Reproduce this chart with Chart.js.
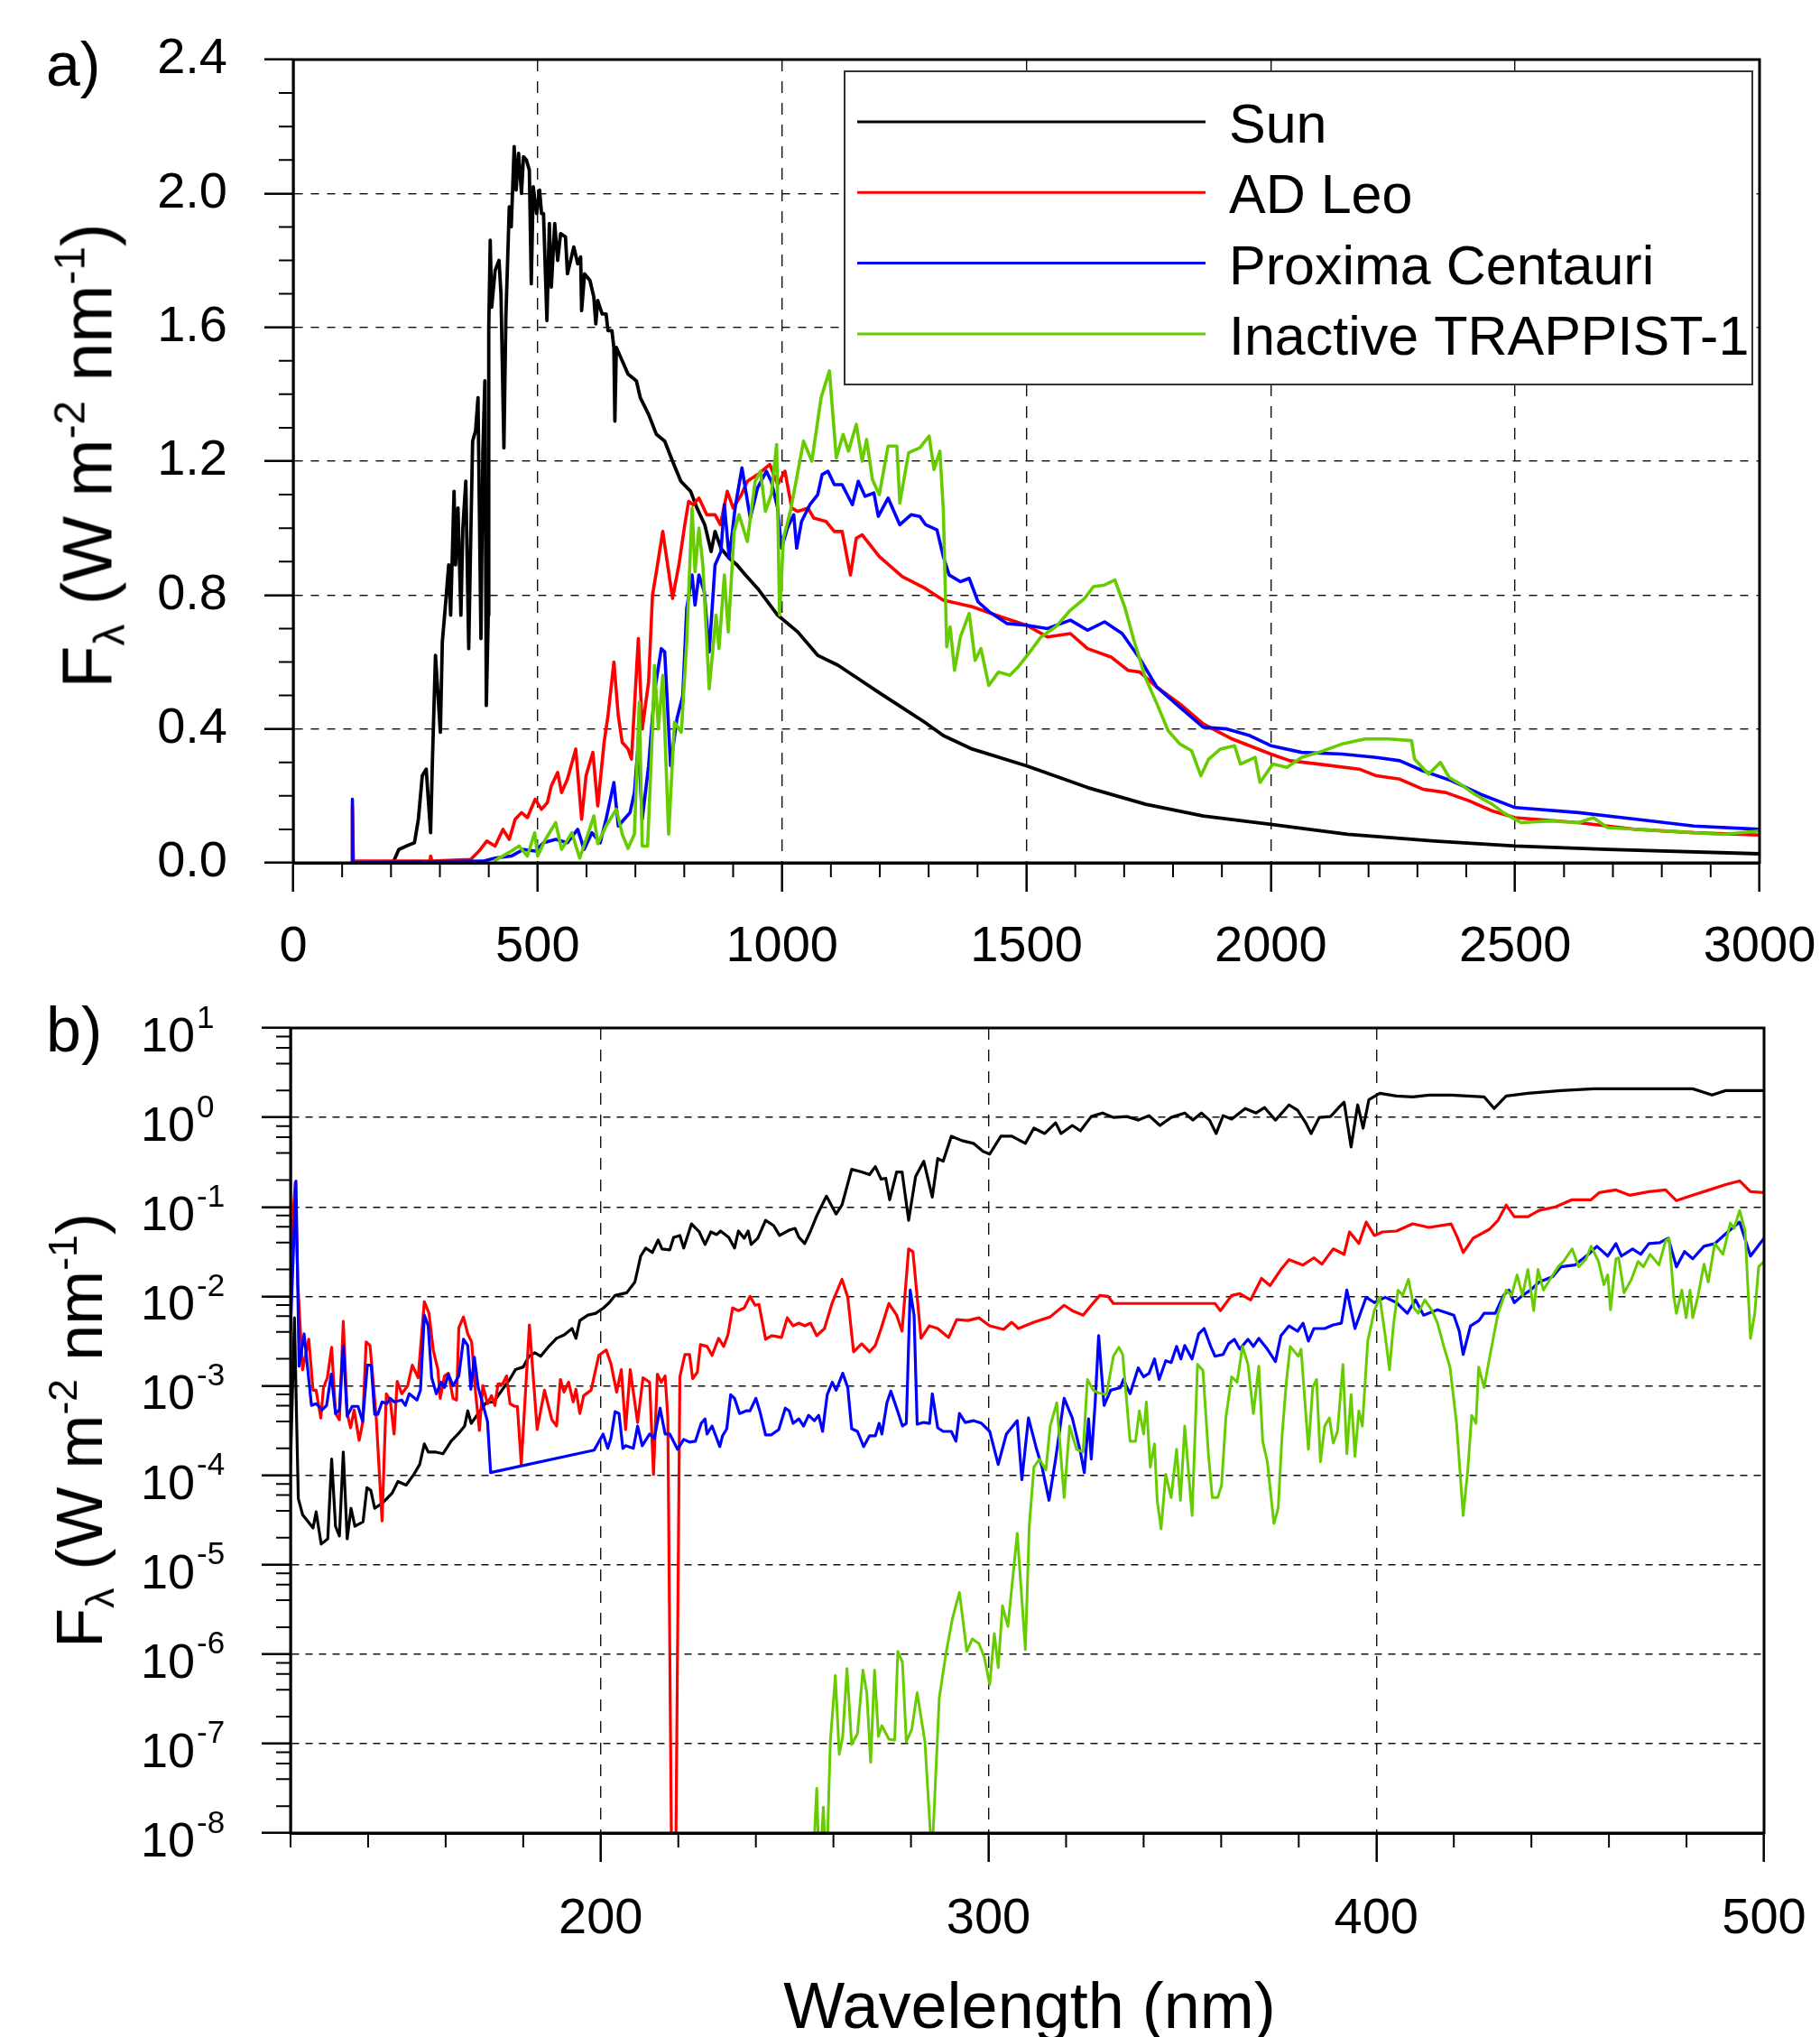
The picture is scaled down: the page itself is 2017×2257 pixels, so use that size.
<!DOCTYPE html>
<html>
<head>
<meta charset="utf-8">
<script src="https://cdn.jsdelivr.net/npm/chart.js@4/dist/chart.umd.min.js"></script>
<style>
  body { margin: 0; background: #fff; }
  #fig { position: relative; width: 2017px; height: 2257px; overflow: hidden; background: #fff;
         font-family: "Liberation Sans", Arial, Helvetica, sans-serif; color: #000; }
  canvas { position: absolute; left: 0; }
  .lbl { position: absolute; line-height: 1; white-space: nowrap; }
  .ytitle { position: absolute; line-height: 1; white-space: nowrap; transform: translate(-50%, -50%) rotate(-90deg); }
  .ytitle sup { font-size: 0.62em; vertical-align: 0.62em; line-height: 0; }
  .ytitle sub { font-size: 0.62em; vertical-align: -0.3em; line-height: 0; }
</style>
</head>
<body>
<div id="fig">
  <canvas id="panelA" width="2017" height="1100" style="top:0"></canvas>
  <canvas id="panelB" width="2017" height="1157" style="top:1100px"></canvas>
  <div class="lbl" style="left:51px; top:37px; font-size:68px;">a)</div>
  <div class="lbl" style="left:51px; top:1106px; font-size:70px;">b)</div>
  <div class="ytitle" style="left:97px; top:505px; font-size:77px;">F<sub>λ</sub> (W m<sup>-2</sup> nm<sup>-1</sup>)</div>
  <div class="ytitle" style="left:88px; top:1585px; font-size:72px;">F<sub>λ</sub> (W m<sup>-2</sup> nm<sup>-1</sup>)</div>
  <div class="lbl" style="left:1141px; top:2186px; font-size:72px; transform:translateX(-50%);">Wavelength (nm)</div>
</div>
<script>
// ---- panel a) linear flux, 0-3000 nm ----
const xTicksA = [0, 500, 1000, 1500, 2000, 2500, 3000];
const yTicksA = [0, 0.4, 0.8, 1.2, 1.6, 2.0, 2.4];
const yMinorA = [0.1,0.2,0.3,0.5,0.6,0.7,0.9,1.0,1.1,1.3,1.4,1.5,1.7,1.8,1.9,2.1,2.2,2.3];
const xMinorA = [];
for (let v = 100; v < 3000; v += 100) if (v % 500 !== 0) xMinorA.push(v);

const sunA_wl = [120,200,206,216,231,248,256,264,272,281,285,291,301,305,312,318,322,329,332,337,
  343,347,353,359,363,367,373,378,384,388,392,395,399,400,403,406,413,421,425,431,
  435,442,446,452,456,461,467,471,477,483,487,491,498,504,508,512,519,524,528,535,
  541,547,557,561,574,582,588,590,596,607,615,619,623,632,640,644,652,656,658,661,
  673,685,702,710,727,743,760,776,793,813,826,842,855,863,875,892,908,925,950,991,
  1032,1073,1115,1156,1197,1239,1271,1292,1330,1389,1500,1625,1744,1862,2000,2157,2335,2500,2689,3000];
const sunA_f = [0,0,0.007,0.04,0.05,0.06,0.13,0.26,0.28,0.09,0.32,0.62,0.39,0.66,0.78,0.89,0.74,1.11,0.89,1.06,
  0.74,1.0,1.14,0.64,0.96,1.26,1.29,1.39,0.67,1.23,1.44,0.47,0.74,1.6,1.86,1.66,1.77,1.80,1.70,1.24,
  1.63,1.96,1.90,2.14,2.01,2.12,2.00,2.11,2.10,2.07,1.73,2.02,1.94,2.01,1.94,1.94,1.62,1.91,1.72,1.91,
  1.80,1.88,1.87,1.76,1.84,1.79,1.81,1.65,1.76,1.74,1.69,1.61,1.68,1.64,1.64,1.59,1.59,1.54,1.32,1.54,
  1.50,1.46,1.44,1.39,1.34,1.28,1.26,1.20,1.14,1.11,1.06,1.01,0.93,0.99,0.94,0.91,0.89,0.86,0.82,0.74,
  0.69,0.62,0.59,0.55,0.51,0.47,0.44,0.42,0.38,0.34,0.29,0.225,0.175,0.14,0.115,0.085,0.065,0.05,0.04,0.027];

const adLeoA_wl = [120,121,123,280,281,284,363,380,396,413,429,442,454,467,479,495,508,520,528,541,
  549,561,578,590,599,613,623,636,644,656,665,673,685,692,706,714,727,735,743,756,
  764,776,789,801,809,818,830,846,863,874,888,900,917,929,950,975,991,1006,1020,1032,
  1053,1065,1090,1107,1123,1140,1152,1164,1199,1246,1293,1330,1389,1448,1500,1543,1590,1625,1673,1708,
  1732,1767,1814,1862,1921,2000,2039,2098,2181,2216,2264,2311,2358,2406,2453,2500,2630,2748,2866,3000];
const adLeoA_f = [0,0.17,0.005,0.005,0.02,0.005,0.01,0.035,0.065,0.05,0.1,0.07,0.13,0.15,0.135,0.19,0.16,0.18,0.23,0.27,
  0.21,0.25,0.34,0.13,0.26,0.33,0.17,0.36,0.44,0.6,0.44,0.36,0.34,0.31,0.67,0.4,0.54,0.8,0.87,0.99,
  0.91,0.79,0.89,1.01,1.08,1.07,1.09,1.04,1.04,1.01,1.11,1.06,1.10,1.14,1.16,1.19,1.13,1.17,1.06,1.05,
  1.06,1.03,1.02,0.99,0.99,0.86,0.97,0.98,0.915,0.855,0.82,0.785,0.765,0.735,0.71,0.675,0.685,0.64,0.615,0.575,
  0.57,0.525,0.475,0.415,0.37,0.325,0.305,0.295,0.28,0.26,0.25,0.22,0.21,0.185,0.155,0.135,0.12,0.10,0.09,0.083];

const proxA_wl = [120,121,122,388,413,446,471,495,512,537,561,582,595,611,628,640,656,665,677,689,
  698,706,714,727,739,753,760,772,785,797,805,816,822,830,841,851,863,875,882,892,
  904,918,935,950,968,978,991,999,1011,1024,1030,1040,1057,1073,1082,1094,1107,1123,1144,1156,
  1170,1188,1197,1217,1241,1264,1282,1294,1317,1330,1342,1365,1383,1401,1424,1460,1500,1543,1590,1625,
  1660,1696,1732,1767,1814,1862,1910,1957,2000,2063,2146,2216,2264,2311,2370,2429,2500,2630,2748,2866,3000];
const proxA_f = [0,0.19,0,0.005,0.014,0.02,0.04,0.035,0.06,0.07,0.06,0.1,0.04,0.09,0.06,0.13,0.24,0.11,0.13,0.15,
  0.21,0.36,0.13,0.29,0.51,0.64,0.63,0.29,0.43,0.5,0.76,0.86,0.77,0.86,0.81,0.63,0.89,0.93,1.07,0.91,
  1.06,1.18,1.03,1.12,1.17,1.14,1.06,0.94,1.0,1.04,0.94,1.02,1.07,1.10,1.16,1.17,1.13,1.13,1.07,1.14,
  1.095,1.105,1.035,1.09,1.01,1.04,1.035,1.01,0.995,0.915,0.86,0.84,0.85,0.78,0.75,0.715,0.71,0.70,0.725,0.695,
  0.72,0.685,0.61,0.525,0.465,0.405,0.40,0.38,0.35,0.33,0.325,0.315,0.305,0.275,0.245,0.205,0.165,0.15,0.13,0.11,0.10];

const trapA_wl = [413,446,462,479,494,500,516,537,549,570,586,603,615,623,640,661,673,685,698,708,
  714,725,735,739,747,756,768,780,794,805,816,822,830,838,851,865,871,882,890,902,
  912,929,945,956,966,978,989,995,1003,1017,1030,1044,1061,1080,1097,1111,1125,1136,1152,1164,
  1173,1185,1199,1217,1235,1241,1259,1282,1301,1311,1323,1330,1337,1344,1353,1365,1383,1395,1407,1423,
  1443,1466,1483,1507,1530,1560,1590,1619,1637,1660,1681,1701,1719,1743,1767,1790,1814,1838,1857,1873,
  1897,1926,1938,1968,1978,2004,2033,2063,2098,2146,2193,2241,2288,2294,2323,2347,2365,2388,2417,2453,
  2476,2512,2571,2630,2660,2689,2807,2925,3000];
const trapA_f = [0.007,0.035,0.05,0.02,0.09,0.02,0.07,0.12,0.04,0.09,0.014,0.086,0.14,0.057,0.11,0.16,0.086,0.043,0.086,0.48,
  0.05,0.05,0.40,0.59,0.40,0.56,0.086,0.42,0.39,0.66,1.06,0.87,1.0,0.89,0.52,0.74,0.64,0.86,0.69,0.99,
  1.04,0.96,1.14,1.17,1.05,1.10,1.25,0.74,0.97,1.05,1.15,1.26,1.20,1.39,1.47,1.21,1.28,1.23,1.31,1.20,
  1.265,1.145,1.10,1.245,1.245,1.075,1.225,1.24,1.275,1.175,1.23,1.055,0.645,0.705,0.575,0.675,0.745,0.605,0.64,0.53,
  0.57,0.56,0.585,0.63,0.675,0.705,0.755,0.79,0.825,0.83,0.845,0.765,0.67,0.555,0.475,0.395,0.355,0.335,0.26,0.31,
  0.34,0.35,0.295,0.315,0.24,0.295,0.285,0.315,0.33,0.355,0.37,0.37,0.365,0.31,0.265,0.30,0.255,0.235,0.205,0.175,
  0.15,0.12,0.125,0.12,0.135,0.105,0.095,0.085,0.095];

// ---- panel b) log flux (values stored as log10 of W m-2 nm-1), 120-500 nm ----
const xTicksB = [200, 300, 400, 500];
const xMinorB = [120,140,160,180,220,240,260,280,320,340,360,380,420,440,460,480];
const yExpB = [-8, -7, -6, -5, -4, -3, -2, -1, 0, 1];
const yMinorB = [];
for (let e = -8; e <= 0; e++) [2, 4, 6, 8].forEach(m => yMinorB.push(m * Math.pow(10, e)));

const sunB_wl = [120,121,122,123.1,124.7,125.8,126.6,127.9,129.6,130.6,131.6,132.6,133.6,134.6,135.6,136.6,138.7,139.7,140.7,141.7,
  143.7,146.2,147.7,149.8,151.8,153.3,154.5,155.5,157.3,159.3,161.4,163.4,164.9,165.7,166.6,168.4,170.4,172.4,174.5,176.5,
  178,180,181.5,183,184.5,186.6,188.6,190.6,192.6,193.6,194.6,196.7,198.7,200.7,202.2,203.7,206.7,208.8,210.3,211.6,
  213.3,214.8,215.8,217.8,218.8,220.4,221.4,223.4,225.4,226.9,228.4,229.9,230.9,233,234.5,235.5,237,238,238.8,240.5,
  242.5,244.6,246.1,248.6,250.1,251.1,252.6,254.1,255.7,258.2,260.7,262.2,264.7,267.3,269.3,270.8,272.3,273.5,274.5,276.3,
  277.7,279.4,281.2,283.3,285.5,286.9,288.3,290.4,293.2,296.1,298.6,300.3,303.2,306,309.5,311.7,314.5,317.3,318.7,321.6,
  323.7,326.5,329.4,332.2,335.7,338.6,341.4,344.2,347.1,350.6,352.7,354.9,357,358.7,360.5,362.7,366.2,369,371.2,374,
  377.5,379.7,381.8,383.2,385.3,388.2,390.3,391.7,393.5,395.2,396.6,398.1,400.9,405.2,409.4,413.6,419.3,427.8,430.4,433.5,
  439.1,447.6,456.1,464.6,473.1,481.6,486.6,490.1,500];
const sunB_log = [-3.86,-2.24,-4.26,-4.44,-4.53,-4.59,-4.41,-4.77,-4.71,-3.82,-4.57,-4.68,-3.74,-4.71,-4.37,-4.57,-4.52,-4.14,-4.17,-4.37,
  -4.31,-4.20,-4.07,-4.11,-3.99,-3.88,-3.65,-3.74,-3.74,-3.76,-3.62,-3.53,-3.45,-3.28,-3.42,-3.31,-3.19,-3.18,-3.05,-2.93,
  -2.82,-2.79,-2.67,-2.63,-2.67,-2.56,-2.47,-2.43,-2.36,-2.47,-2.27,-2.21,-2.19,-2.13,-2.07,-1.99,-1.96,-1.84,-1.55,-1.46,
  -1.51,-1.37,-1.47,-1.48,-1.34,-1.32,-1.46,-1.19,-1.28,-1.42,-1.28,-1.31,-1.27,-1.34,-1.46,-1.27,-1.35,-1.27,-1.42,-1.35,
  -1.15,-1.21,-1.32,-1.26,-1.24,-1.34,-1.41,-1.27,-1.10,-0.88,-1.08,-0.98,-0.58,-0.61,-0.64,-0.55,-0.69,-0.68,-0.92,-0.61,
  -0.61,-1.15,-0.66,-0.49,-0.89,-0.46,-0.49,-0.21,-0.26,-0.29,-0.38,-0.41,-0.21,-0.21,-0.29,-0.12,-0.18,-0.06,-0.18,-0.09,
  -0.15,0.01,0.05,0.0,0.01,-0.03,0.02,-0.09,0.0,0.05,-0.03,0.05,-0.03,-0.18,0.02,-0.02,0.10,0.05,0.11,-0.03,
  0.14,0.08,-0.06,-0.18,0.0,0.01,0.11,0.17,-0.33,0.14,-0.12,0.20,0.27,0.24,0.23,0.25,0.25,0.23,0.10,0.24,
  0.27,0.30,0.32,0.32,0.32,0.32,0.25,0.30,0.30];

const adLeoB_wl = [120,121.2,121.9,123.1,124.7,125.8,126.6,127.8,128.5,129.5,130.6,131.6,132.6,133.6,134.6,135.5,136.4,137.7,138.6,139.5,
  140.5,142.1,143.6,144.7,145.7,146.7,147.5,148.7,150.2,151.4,152.9,154.5,155.7,156.8,158,158.6,159.7,160.7,161.9,162.8,
  163.4,164.6,165.7,166.7,167.7,168.7,169.6,170.8,171.8,172.7,173.5,174.7,175.7,176.6,177.8,178.5,179.5,181.6,183.6,185.5,
  187.4,188.6,189.6,190.5,191.7,192.9,193.6,194.6,195.6,197.5,199.5,201.4,202.6,204.1,205.3,206.4,207.6,209.5,210.9,212.6,
  213.6,214.6,215.6,216.6,217.3,218.3,219.3,220.4,221.7,222.9,223.7,224.9,225.7,227.4,228.7,230.4,231.7,232.8,234,235.5,
  237,238.5,239.8,240.8,242.5,244.1,246.6,248.1,249.6,251.1,252.6,254.1,255.7,257.7,259.7,262.2,263.7,265.2,267.3,269.3,
  270.8,272.3,274.3,276.3,277.7,279.4,280.5,282.6,284.7,286.9,289.7,291.8,294.7,297.5,300.3,303.9,306,307.7,311.7,315.9,
  319.5,321.6,324.4,326.5,328.7,330.8,332.2,358.4,359.8,362.7,364.8,367.6,370.4,372.6,375.4,377.5,381.1,383.9,386,388.9,
  391.7,393.1,395.5,397.4,399.5,401.6,405.2,409.4,413.6,419.3,421,422.4,425,429.2,431.4,433.5,435.6,439.1,442,446.2,
  450.5,455.4,457.5,461.8,465.3,470.3,474.6,477.4,481.6,485.9,490.1,493.7,496.5,500];
const adLeoB_log = [-1.52,-0.73,-1.88,-2.82,-2.48,-3.05,-3.05,-3.36,-3.02,-2.91,-2.57,-3.31,-3.38,-2.28,-3.31,-3.47,-3.27,-3.61,-3.41,-2.51,
  -2.55,-3.36,-4.51,-3.09,-3.16,-3.54,-2.95,-3.09,-3.0,-2.77,-2.91,-2.06,-2.19,-2.60,-2.82,-3.14,-2.89,-2.86,-3.14,-3.16,
  -2.35,-2.23,-2.42,-2.51,-3.07,-3.50,-3.0,-3.20,-3.11,-3.22,-2.98,-2.98,-2.89,-3.20,-3.23,-3.23,-3.88,-2.32,-3.49,-3.05,
  -3.38,-3.45,-2.93,-3.07,-2.96,-3.18,-3.04,-3.31,-3.11,-3.05,-2.66,-2.60,-2.75,-3.07,-2.82,-3.49,-2.82,-3.41,-2.91,-2.96,
  -3.99,-2.87,-2.96,-2.89,-3.36,-8.5,-8.5,-2.90,-2.65,-2.65,-2.92,-2.85,-2.54,-2.56,-2.66,-2.47,-2.56,-2.43,-2.13,-2.16,
  -2.13,-2.0,-2.10,-2.09,-2.48,-2.44,-2.46,-2.24,-2.33,-2.30,-2.33,-2.30,-2.44,-2.36,-2.07,-1.81,-2.01,-2.62,-2.53,-2.62,
  -2.55,-2.36,-2.08,-2.21,-2.39,-1.47,-1.50,-2.47,-2.33,-2.36,-2.46,-2.26,-2.27,-2.24,-2.33,-2.37,-2.29,-2.36,-2.29,-2.23,
  -2.10,-2.16,-2.21,-2.10,-1.99,-2.0,-2.08,-2.08,-2.16,-1.99,-1.97,-2.04,-1.80,-1.88,-1.70,-1.59,-1.65,-1.57,-1.64,-1.47,
  -1.53,-1.28,-1.41,-1.17,-1.32,-1.28,-1.27,-1.19,-1.23,-1.19,-1.35,-1.51,-1.35,-1.25,-1.15,-0.98,-1.11,-1.11,-1.04,-1.0,
  -0.92,-0.92,-0.84,-0.81,-0.87,-0.83,-0.81,-0.93,-0.87,-0.81,-0.75,-0.71,-0.83,-0.84];

const proxB_wl = [120,121.4,122.2,123.5,125.4,126.6,128.1,129.3,130.5,131.6,132.6,133.6,134.6,135.9,137.4,138.6,139.8,140.8,141.7,142.5,
  143.6,144.8,145.7,146.7,148.7,149.6,150.6,152.6,153.5,154.5,155.5,156.4,157.6,158.8,159.7,160.7,161.9,163.4,164.6,165.7,
  166.5,167.4,168.4,170.8,171.6,198.3,200.6,201.8,202.6,203.7,204.7,205.7,206.4,208.4,209.5,210.7,212.6,213.8,215.3,216.6,
  217.8,219.8,221.4,222.9,224.4,225.9,226.9,227.4,228.7,230.7,231.4,232.5,233.5,234.5,235.8,237.5,238.5,240,241,242.5,
  243.9,245.9,247.6,248.6,249.6,251.1,252.3,253.6,255.1,256.2,257.2,258.4,259.7,260.7,262.4,263.7,264.7,266.2,267.8,269.3,
  270.8,271.8,272.5,273.8,274.8,276.3,277.8,278.8,279.8,280.8,281.6,283.3,284.8,285.5,286.9,288.3,290.4,291.6,292.5,294,
  296.1,298.2,300.3,302.5,304.6,307.4,308.6,310.3,312.4,313.8,315.6,317.3,319.5,321.6,323.7,324.7,325.8,326.5,327.5,328.4,
  329.8,331.5,334,334.8,336.5,338.6,340,341.4,342.8,344,345.7,347.1,348.5,349.6,350.6,352.5,354.2,355.6,357.3,358.4,
  360.5,361.9,363.4,364.8,366.9,368.3,369.7,371.9,374,375.4,377.5,379.7,381.1,382.5,383.9,386.7,388.9,391,392.4,394.5,
  397.4,399.5,402.3,405.2,408,410.1,412.2,415.8,420,421.4,422.4,424.3,426.5,427.8,430.7,432.8,434.2,435.6,437.7,439.8,
  442,445.5,447.6,451.2,454.7,456.9,459.7,461.8,463.2,466.1,468.2,470.3,473.1,475.3,477.4,479.5,481.6,484.5,487.3,490.1,
  493.7,496.5,500];
const proxB_log = [-2.37,-0.71,-2.78,-2.42,-3.22,-3.20,-3.27,-3.22,-2.87,-3.31,-3.27,-2.55,-3.34,-3.23,-3.23,-3.40,-2.77,-2.77,-3.32,-3.32,
  -3.18,-3.20,-3.14,-3.18,-3.16,-3.22,-3.09,-3.16,-3.05,-2.21,-2.33,-2.91,-3.09,-2.96,-3.02,-2.87,-3.0,-2.89,-2.48,-2.55,
  -3.04,-2.68,-3.02,-3.40,-3.97,-3.72,-3.54,-3.70,-3.59,-3.29,-3.31,-3.70,-3.67,-3.70,-3.45,-3.67,-3.54,-3.59,-3.25,-3.54,
  -3.54,-3.71,-3.60,-3.63,-3.62,-3.42,-3.37,-3.54,-3.45,-3.68,-3.56,-3.48,-3.10,-3.14,-3.31,-3.28,-3.28,-3.14,-3.28,-3.55,
  -3.55,-3.49,-3.25,-3.28,-3.42,-3.37,-3.45,-3.33,-3.39,-3.33,-3.51,-3.10,-2.96,-3.05,-2.86,-3.02,-3.48,-3.51,-3.68,-3.56,
  -3.56,-3.42,-3.54,-3.19,-3.06,-3.25,-3.45,-3.42,-1.93,-2.21,-3.43,-3.41,-3.42,-3.09,-3.47,-3.51,-3.51,-3.62,-3.31,-3.41,
  -3.39,-3.42,-3.51,-3.88,-3.54,-3.39,-4.05,-3.36,-3.71,-3.91,-4.28,-3.82,-3.14,-3.36,-3.74,-3.97,-3.37,-3.82,-3.19,-2.44,
  -3.22,-3.05,-3.02,-2.93,-3.09,-2.80,-2.90,-2.86,-2.70,-2.93,-2.72,-2.74,-2.56,-2.70,-2.55,-2.70,-2.42,-2.36,-2.56,-2.67,
  -2.65,-2.53,-2.48,-2.59,-2.48,-2.56,-2.47,-2.59,-2.73,-2.44,-2.33,-2.39,-2.30,-2.50,-2.36,-2.36,-2.32,-2.30,-1.93,-2.36,
  -2.01,-2.07,-2.01,-2.07,-2.19,-2.04,-2.21,-2.15,-2.21,-2.39,-2.65,-2.33,-2.27,-2.19,-2.19,-1.99,-1.93,-2.07,-1.99,-1.93,
  -1.84,-1.78,-1.67,-1.65,-1.53,-1.44,-1.55,-1.41,-1.55,-1.47,-1.53,-1.41,-1.40,-1.35,-1.67,-1.50,-1.58,-1.44,-1.41,-1.30,
  -1.17,-1.55,-1.35];

const trapB_wl = [254,254.6,255.7,256.4,257.4,258.2,259.2,260.5,261.5,262.4,263.5,264.7,266.2,267.6,268.6,269.6,270.6,271.6,272.5,274.3,
  275.8,276.6,277.8,278.8,280.2,281.6,283.6,285,285.6,287.3,289,290.7,292.5,294.4,295.8,297.5,298.9,300.3,301.5,302.5,
  303.6,305,307.4,309.5,310.5,311.7,313.1,314.8,315.9,317.6,319.5,320.9,322.7,324.4,325.5,327,328.4,330.4,332.2,333.6,
  334.6,336.5,337.9,338.9,340,340.7,341.7,342.8,343.5,344.5,345.7,347.1,348.5,349.5,350.6,352.5,353.9,355.3,356.7,357.7,
  359.1,360.1,361.2,362.7,364.1,365.5,366.9,368.3,369.7,370.7,371.9,373.6,374.7,375.7,376.8,377.8,379.9,380.6,382.5,383.6,
  384.6,385.6,386.7,387.9,388.9,390,391.4,392.4,393.5,394.5,395.5,396.4,397.8,399.5,400.9,402.3,403.4,404.4,405.6,406.8,
  408.3,409.7,410.8,412.5,414.4,415.8,417.6,419,420.7,422.4,423.6,424.6,425.7,426.4,427.8,429.5,431.4,433.5,434.9,436.3,
  437.7,439.1,440.6,441.7,443.1,444.8,446.9,448.3,450.5,452.2,454,455.4,457.3,458.7,459.7,460.4,461.8,462.5,463.9,465.8,
  467.5,468.9,470.6,472.9,474.6,475.5,476.7,477.4,478.8,479.9,480.9,481.6,483,484.5,485.6,487.3,489.4,491.3,492.3,493.7,
  495.1,496.5,497.6,498.6,500];
const trapB_log = [-8.5,-8.5,-7.50,-8.5,-7.71,-8.5,-6.98,-6.24,-7.12,-6.92,-6.16,-7.01,-6.89,-6.18,-6.43,-7.21,-6.18,-6.92,-6.80,-6.95,
  -6.96,-5.97,-6.09,-6.98,-6.84,-6.43,-6.98,-8.0,-8.1,-6.49,-6.0,-5.60,-5.31,-5.97,-5.83,-5.88,-6.03,-6.34,-5.77,-6.15,
  -5.46,-5.69,-4.65,-5.95,-4.57,-3.91,-3.82,-3.94,-3.45,-3.19,-4.25,-3.45,-3.71,-3.74,-2.93,-3.05,-3.08,-3.10,-2.67,-2.57,
  -2.65,-3.62,-3.62,-3.28,-3.54,-3.18,-3.91,-3.65,-4.28,-4.60,-3.99,-4.25,-3.71,-4.28,-3.45,-4.45,-2.76,-2.83,-3.76,-4.25,
  -4.25,-4.11,-3.36,-2.90,-2.96,-2.56,-2.76,-3.31,-2.78,-3.62,-3.85,-4.54,-4.37,-3.56,-2.96,-2.56,-2.67,-2.59,-3.71,-3.02,
  -2.93,-3.85,-3.45,-3.36,-3.64,-3.51,-2.76,-3.76,-3.10,-3.79,-3.28,-3.45,-2.50,-2.16,-2.01,-2.44,-2.82,-2.33,-1.93,-1.99,
  -1.81,-2.13,-2.19,-2.04,-2.16,-2.30,-2.59,-2.79,-3.42,-4.45,-3.94,-3.33,-3.42,-2.79,-3.02,-2.62,-2.19,-1.93,-1.99,-1.76,
  -1.99,-1.70,-2.16,-1.70,-1.93,-1.81,-1.67,-1.61,-1.47,-1.67,-1.59,-1.44,-1.61,-1.87,-1.76,-2.15,-1.58,-1.57,-1.96,-1.81,
  -1.61,-1.67,-1.53,-1.65,-1.38,-1.35,-1.99,-2.19,-1.93,-2.24,-1.93,-2.24,-1.99,-1.64,-1.84,-1.41,-1.53,-1.18,-1.24,-1.04,
  -1.27,-2.47,-2.19,-1.67,-1.61];

// ---- drawing ----
const FONT = '"Liberation Sans", Arial, Helvetica, sans-serif';
Chart.defaults.font.family = FONT;
Chart.defaults.color = '#000';

function pts(xs, ys) { return xs.map((x, i) => ({ x: x, y: ys[i] })); }
function logPts(xs, ls) { return xs.map((x, i) => ({ x: x, y: Math.pow(10, ls[i]) })); }

function line(label, data, color, order, width) {
  return { label: label, data: data, borderColor: color, backgroundColor: color,
           borderWidth: width, pointRadius: 0, tension: 0, order: order, fill: false,
           borderJoinStyle: 'round', borderCapStyle: 'round' };
}

// keep the plot box where the reference has it (labels may overhang)
function fixSize(prop, size) {
  return s => { s[prop] = size; s.paddingLeft = 0; s.paddingRight = 0; s.paddingTop = 0; s.paddingBottom = 0; };
}

// minor ticks + closed frame around the plot
const frameTicks = {
  id: 'frameTicks',
  afterDraw(chart, args, o) {
    const ctx = chart.ctx, a = chart.chartArea;
    const xs = chart.scales.x, ys = chart.scales.y;
    ctx.save();
    ctx.setLineDash([]);
    ctx.strokeStyle = '#000';
    ctx.lineWidth = 2;
    ctx.beginPath();
    o.xMinor.forEach(v => { const p = xs.getPixelForValue(v); ctx.moveTo(p, a.bottom); ctx.lineTo(p, a.bottom + 16); });
    o.yMinor.forEach(v => { const p = ys.getPixelForValue(v); ctx.moveTo(a.left - 16, p); ctx.lineTo(a.left, p); });
    ctx.stroke();
    ctx.lineWidth = 3;
    ctx.strokeRect(a.left, a.top, a.right - a.left, a.bottom - a.top);
    ctx.restore();
  }
};

// framed legend inside panel a
const boxLegend = {
  id: 'boxLegend',
  afterDraw(chart, args, o) {
    if (!o.show) return;
    const ctx = chart.ctx;
    ctx.save();
    ctx.fillStyle = '#fff';
    ctx.fillRect(o.left, o.top, o.width, o.height);
    ctx.strokeStyle = '#333';
    ctx.lineWidth = 2;
    ctx.strokeRect(o.left, o.top, o.width, o.height);
    ctx.font = o.fontSize + 'px ' + FONT;
    ctx.textBaseline = 'alphabetic';
    ctx.textAlign = 'left';
    chart.data.datasets.forEach((ds, i) => {
      const y = o.top + o.firstRow + i * o.rowGap;
      ctx.strokeStyle = ds.borderColor;
      ctx.lineWidth = 3;
      ctx.beginPath();
      ctx.moveTo(o.left + 14, y);
      ctx.lineTo(o.left + 400, y);
      ctx.stroke();
      ctx.fillStyle = '#000';
      ctx.fillText(ds.label, o.left + 426, y + 23);
    });
    ctx.restore();
  }
};

// 10^n labels for the log axis of panel b
const powerLabels = {
  id: 'powerLabels',
  afterDraw(chart, args, o) {
    if (!o.exps) return;
    const ctx = chart.ctx, ys = chart.scales.y;
    ctx.save();
    ctx.fillStyle = '#000';
    ctx.textBaseline = 'alphabetic';
    o.exps.forEach(e => {
      const p = ys.getPixelForValue(Math.pow(10, e));
      ctx.font = '54px ' + FONT;
      ctx.textAlign = 'right';
      ctx.fillText('10', 216, p + 7 + 19);
      ctx.font = '35px ' + FONT;
      ctx.textAlign = 'left';
      ctx.fillText(String(e), 218, p - 13 + 12.5);
    });
    ctx.restore();
  }
};

function axisStyle(dash, borderWidth) {
  return {
    grid: { color: '#111', lineWidth: 1.4, tickLength: 32, tickWidth: 2.5, tickColor: '#000', tickBorderDash: [] },
    border: { color: '#000', width: borderWidth, dash: dash }
  };
}

new Chart(document.getElementById('panelA'), {
  type: 'line',
  data: {
    datasets: [
      line('Sun', pts(sunA_wl, sunA_f), '#000000', 3, 3.8),
      line('AD Leo', pts(adLeoA_wl, adLeoA_f), '#ff0000', 2, 3.6),
      line('Proxima Centauri', pts(proxA_wl, proxA_f), '#0000ff', 1, 3.6),
      line('Inactive TRAPPIST-1', pts(trapA_wl, trapA_f), '#66cc00', 0, 3.6)
    ]
  },
  options: {
    responsive: false, animation: false, devicePixelRatio: 1,
    layout: { padding: { left: 0, top: 66, right: 67, bottom: 0 } },
    plugins: {
      legend: { display: false }, tooltip: { enabled: false },
      frameTicks: { xMinor: xMinorA, yMinor: yMinorA },
      boxLegend: { show: true, left: 936, top: 79, width: 1006, height: 347, firstRow: 56, rowGap: 78.3, fontSize: 61 }
    },
    scales: {
      x: Object.assign({
        type: 'linear', min: 0, max: 3000,
        afterBuildTicks: s => { s.ticks = xTicksA.map(v => ({ value: v })); },
        afterFit: fixSize('height', 144),
        ticks: { font: { size: 56 }, padding: 28, maxRotation: 0, autoSkip: false, callback: v => String(v) }
      }, axisStyle([13, 11], 3)),
      y: Object.assign({
        type: 'linear', min: 0, max: 2.4,
        afterBuildTicks: s => { s.ticks = yTicksA.map(v => ({ value: v })); },
        afterFit: fixSize('width', 325),
        ticks: { font: { size: 56 }, padding: 41, autoSkip: false, callback: v => Number(v).toFixed(1) }
      }, axisStyle([9, 9], 2.5))
    }
  },
  plugins: [frameTicks, boxLegend]
});

new Chart(document.getElementById('panelB'), {
  type: 'line',
  data: {
    datasets: [
      line('Sun', logPts(sunB_wl, sunB_log), '#000000', 3, 3.2),
      line('AD Leo', logPts(adLeoB_wl, adLeoB_log), '#ff0000', 2, 3.2),
      line('Proxima Centauri', logPts(proxB_wl, proxB_log), '#0000ff', 1, 3.2),
      line('Inactive TRAPPIST-1', logPts(trapB_wl, trapB_log), '#66cc00', 0, 3.0)
    ]
  },
  options: {
    responsive: false, animation: false, devicePixelRatio: 1,
    layout: { padding: { left: 0, top: 39, right: 62, bottom: 0 } },
    plugins: {
      legend: { display: false }, tooltip: { enabled: false },
      frameTicks: { xMinor: xMinorB, yMinor: yMinorB },
      powerLabels: { exps: yExpB }
    },
    scales: {
      x: Object.assign({
        type: 'linear', min: 120, max: 500,
        afterBuildTicks: s => { s.ticks = xTicksB.map(v => ({ value: v })); },
        afterFit: fixSize('height', 226),
        ticks: { font: { size: 56 }, padding: 30, maxRotation: 0, autoSkip: false, callback: v => String(v) }
      }, axisStyle([13, 11], 3)),
      y: Object.assign({
        type: 'logarithmic', min: 1e-8, max: 10,
        afterBuildTicks: s => { s.ticks = yExpB.map(e => ({ value: Math.pow(10, e) })); },
        afterFit: fixSize('width', 322),
        ticks: { display: false }
      }, axisStyle([8, 7], 2.5))
    }
  },
  plugins: [frameTicks, powerLabels]
});
</script>
</body>
</html>
